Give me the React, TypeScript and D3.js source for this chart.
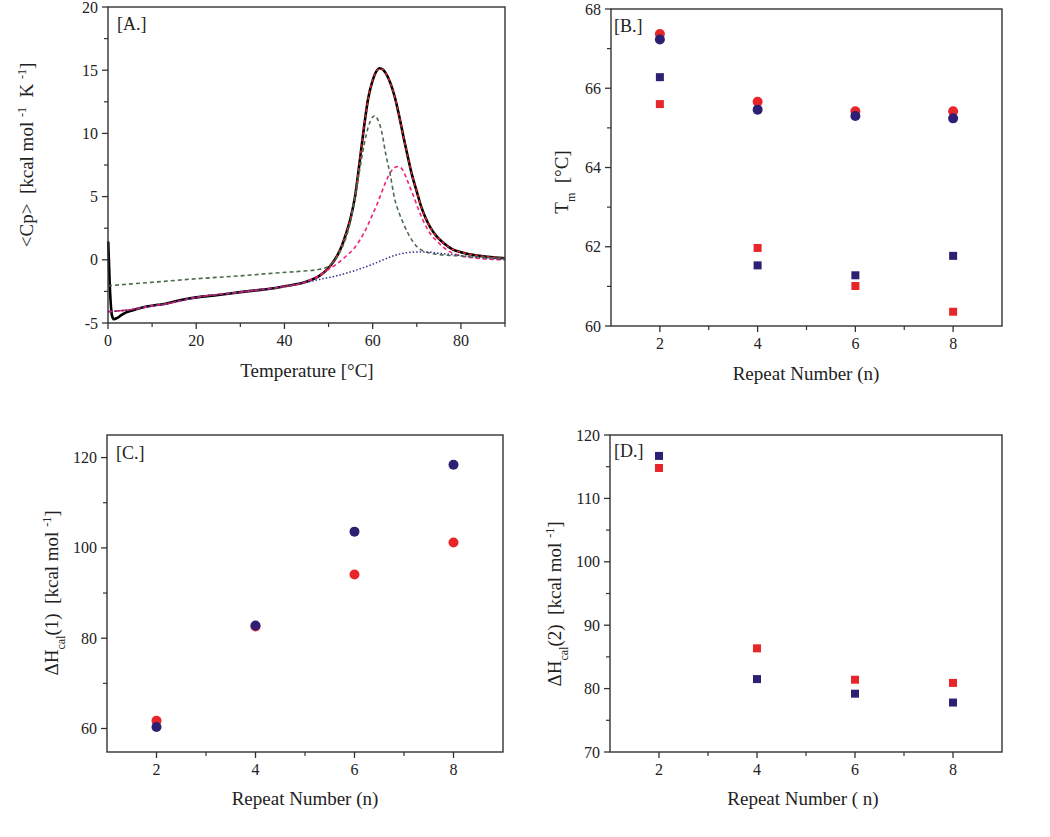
import React from 'react';
import * as d3 from 'd3';

const FONT = '"Liberation Serif", "Times New Roman", Times, serif';
const AXIS = '#333333';
const RED = '#e8262a';
const NAVY = '#2f1f73';

// ---------- Panel A: DSC thermogram (Temperature °C, <Cp> kcal/mol/K) ----------
const cpExperimental: [number, number][] = [
  [0.05, 1.45], [0.4, -2.0], [0.9, -4.4], [1.3, -4.7], [2, -4.62], [3, -4.38], [4, -4.18], [5, -4.06],
  [6, -3.95], [7, -3.85], [8, -3.76], [10, -3.63], [12, -3.53], [13, -3.48], [15, -3.3], [18, -3.08],
  [20, -2.97], [25, -2.78], [30, -2.56], [35, -2.36], [38, -2.23], [40, -2.1], [42, -1.98], [44, -1.83],
  [46, -1.6], [48, -1.25], [50, -0.65], [51, -0.2], [52, 0.35], [53, 1.1], [54, 2.1], [55, 3.3],
  [56, 5.0], [57, 7.6], [58, 10.4], [59, 12.8], [60, 14.2], [61, 15.0], [61.6, 15.15], [62.3, 15.05],
  [63, 14.75], [64, 14.0], [65, 12.9], [66, 11.4], [67, 9.7], [68, 8.1], [69, 6.6], [70, 5.4],
  [71, 4.2], [72, 3.3], [73, 2.6], [74.5, 1.85], [76, 1.35], [78, 0.85], [80, 0.6], [83, 0.38],
  [86, 0.24], [90, 0.12],
];
const cpFitTotal: [number, number][] = [
  [0, -4.1], [5, -3.95], [10, -3.65], [13, -3.5], [20, -2.97], [30, -2.56], [40, -2.1], [44, -1.85],
  [46, -1.6], [48, -1.25], [50, -0.65], [51, -0.2], [52, 0.35], [53, 1.1], [54, 2.1], [55, 3.3],
  [56, 5.0], [57, 7.6], [58, 10.4], [59, 12.8], [60, 14.2], [61, 15.0], [61.6, 15.15], [62.3, 15.05],
  [63, 14.75], [64, 14.0], [65, 12.9], [66, 11.4], [67, 9.7], [68, 8.1], [69, 6.6], [70, 5.4],
  [71, 4.2], [72, 3.3], [73, 2.6], [74.5, 1.85], [76, 1.35], [78, 0.85], [80, 0.6], [83, 0.38],
  [86, 0.24], [90, 0.12],
];
const cpPeak1: [number, number][] = [
  [0, -2.05], [10, -1.78], [20, -1.5], [30, -1.27], [39, -1.02], [44, -0.9], [48, -0.75], [50, -0.5],
  [51, -0.2], [52, 0.25], [53, 0.9], [54, 1.8], [55, 3.1], [56, 5.0], [57, 7.0], [58, 9.0],
  [59, 10.5], [60, 11.3], [60.5, 11.4], [61, 11.2], [62, 10.2], [63, 8.3], [64, 6.7], [65, 4.8],
  [66, 3.7], [67, 2.85], [68, 2.1], [69, 1.5], [70, 1.05], [71, 0.78], [73, 0.52], [75, 0.42],
  [80, 0.3], [85, 0.2], [90, 0.1],
];
const cpPeak2: [number, number][] = [
  [0, -4.1], [5, -3.95], [10, -3.65], [13, -3.5], [20, -2.97], [30, -2.56], [40, -2.1], [44, -1.85],
  [47, -1.4], [49, -1.0], [50, -0.75], [52, -0.3], [54, 0.3], [56, 1.0], [58, 2.1], [60, 3.6],
  [61, 4.4], [62, 5.3], [63, 6.2], [64, 6.9], [65, 7.3], [65.8, 7.38], [66.5, 7.25], [67.5, 6.6],
  [68.5, 5.7], [69.2, 5.1], [70.7, 3.7], [72, 2.7], [73, 2.1], [74.5, 1.5], [76, 1.0], [78, 0.55],
  [80, 0.3], [83, 0.15], [86, 0.05], [90, 0.0],
];
const cpBaseline: [number, number][] = [
  [0, -4.1], [5, -3.95], [10, -3.65], [13, -3.5], [20, -2.97], [30, -2.56], [40, -2.1], [44, -1.85],
  [48, -1.55], [52, -1.25], [56.4, -0.8], [60, -0.35], [62.4, 0.0], [65, 0.35], [67.7, 0.56], [70, 0.62],
  [72, 0.62], [75, 0.52], [79, 0.38], [85, 0.15], [90, 0.02],
];
const tempMajorTicks = [0, 20, 40, 60, 80];
const tempMinorTicks = [10, 30, 50, 70, 90];
const cpMajorTicks = [-5, 0, 5, 10, 15, 20];
const cpMinorTicks = [-2.5, 2.5, 7.5, 12.5, 17.5];

// ---------- Panels B-D: vs repeat number ----------
const repeatNumbers = [2, 4, 6, 8];
const repeatMajorTicks = [2, 4, 6, 8];
const repeatMinorTicks = [3, 5, 7];

const tmCircleRed = [67.37, 65.66, 65.42, 65.42];
const tmCircleNavy = [67.23, 65.46, 65.3, 65.24];
const tmSquareRed = [65.6, 61.97, 61.01, 60.36];
const tmSquareNavy = [66.28, 61.53, 61.28, 61.77];
const tmMajorTicks = [60, 62, 64, 66, 68];
const tmMinorTicks = [61, 63, 65, 67];

const dh1Red = [61.7, 82.6, 94.1, 101.2];
const dh1Navy = [60.35, 82.8, 103.6, 118.4];
const dh1MajorTicks = [60, 80, 100, 120];
const dh1MinorTicks = [70, 90, 110];

const dh2Red = [114.8, 86.35, 81.4, 80.9];
const dh2Navy = [116.7, 81.5, 79.2, 77.8];
const dh2MajorTicks = [70, 80, 90, 100, 110, 120];
const dh2MinorTicks = [75, 85, 95, 105, 115];

type Scale = d3.ScaleLinear<number, number>;

function Frame({ x, y, xMajor, xMinor, yMajor, yMinor }: {
  x: Scale; y: Scale; xMajor: number[]; xMinor: number[]; yMajor: number[]; yMinor: number[];
}) {
  const [x0, x1] = x.range();
  const [y0, y1] = y.range();
  return (
    <g fontFamily={FONT} fontSize={16} fill="#222">
      <rect x={x0} y={y1} width={x1 - x0} height={y0 - y1} fill="none" stroke={AXIS} strokeWidth={1.4} />
      {xMajor.map((v) => (
        <g key={'xM' + v}>
          <line x1={x(v)} x2={x(v)} y1={y0} y2={y0 + 6} stroke={AXIS} strokeWidth={1.3} />
          <text x={x(v)} y={y0 + 23} textAnchor="middle">{v}</text>
        </g>
      ))}
      {xMinor.map((v) => (
        <line key={'xm' + v} x1={x(v)} x2={x(v)} y1={y0} y2={y0 + 4} stroke={AXIS} strokeWidth={1.2} />
      ))}
      {yMajor.map((v) => (
        <g key={'yM' + v}>
          <line x1={x0 - 6} x2={x0} y1={y(v)} y2={y(v)} stroke={AXIS} strokeWidth={1.3} />
          <text x={x0 - 10} y={y(v)} dy="0.35em" textAnchor="end">{v}</text>
        </g>
      ))}
      {yMinor.map((v) => (
        <line key={'ym' + v} x1={x0 - 4} x2={x0} y1={y(v)} y2={y(v)} stroke={AXIS} strokeWidth={1.2} />
      ))}
    </g>
  );
}

function Circles({ x, y, values, color }: { x: Scale; y: Scale; values: number[]; color: string }) {
  return (
    <g>
      {values.map((v, i) => (
        <circle key={i} cx={x(repeatNumbers[i])} cy={y(v)} r={5} fill={color} />
      ))}
    </g>
  );
}

function Squares({ x, y, values, color }: { x: Scale; y: Scale; values: number[]; color: string }) {
  const s = 8;
  return (
    <g>
      {values.map((v, i) => (
        <rect key={i} x={x(repeatNumbers[i]) - s / 2} y={y(v) - s / 2} width={s} height={s} fill={color} />
      ))}
    </g>
  );
}

export default function App() {
  // Panel A scales
  const xA = d3.scaleLinear().domain([0, 90]).range([108, 505]);
  const yA = d3.scaleLinear().domain([-5, 20]).range([323, 7]);
  const lineA = d3.line<[number, number]>().x((d) => xA(d[0])).y((d) => yA(d[1])).curve(d3.curveMonotoneX);

  // Panel B
  const xB = d3.scaleLinear().domain([1, 9]).range([611, 1002]);
  const yB = d3.scaleLinear().domain([60, 68]).range([326, 9]);
  // Panel C
  const xC = d3.scaleLinear().domain([1, 9]).range([107, 503]);
  const yC = d3.scaleLinear().domain([54.8, 125]).range([752, 435]);
  // Panel D
  const xD = d3.scaleLinear().domain([1, 9]).range([610, 1002]);
  const yD = d3.scaleLinear().domain([70, 120]).range([752, 435]);

  const titleSize = 19;
  const sup = (t: string) => (
    <tspan baselineShift="super" fontSize={12}>{t}</tspan>
  );
  const sub = (t: string) => (
    <tspan baselineShift="sub" fontSize={12}>{t}</tspan>
  );

  return (
    <svg width={1050} height={837} style={{ position: 'absolute', left: 0, top: 0, background: '#fff' }}
      fontFamily={FONT}>
      <rect x={0} y={0} width={1050} height={837} fill="#fff" />

      {/* ---------- Panel A ---------- */}
      <g>
        <path d={lineA(cpExperimental) || ''} fill="none" stroke="#000" strokeWidth={2.6} />
        <path d={lineA(cpFitTotal) || ''} fill="none" stroke={RED} strokeWidth={1.5} strokeDasharray="3,3" />
        <path d={lineA(cpPeak2) || ''} fill="none" stroke="#f0207e" strokeWidth={1.6} strokeDasharray="4,3" />
        <path d={lineA(cpBaseline) || ''} fill="none" stroke="#3d2f8f" strokeWidth={1.5} strokeDasharray="1.5,2" />
        <path d={lineA(cpPeak1) || ''} fill="none" stroke="#4c6b4c" strokeWidth={1.6} strokeDasharray="4,3" />
        <Frame x={xA} y={yA} xMajor={tempMajorTicks} xMinor={tempMinorTicks} yMajor={cpMajorTicks} yMinor={cpMinorTicks} />
        <text x={117} y={30} fontSize={18} fill="#222">[A.]</text>
        <text x={307} y={377} fontSize={titleSize} textAnchor="middle" fill="#222">Temperature [°C]</text>
        <text transform="translate(33,155) rotate(-90)" fontSize={titleSize} textAnchor="middle" fill="#222"
          style={{ whiteSpace: 'pre' }}>
          {'<Cp>  [kcal mol '}{sup('-1')}{'  K '}{sup('-1')}{']'}
        </text>
      </g>

      {/* ---------- Panel B ---------- */}
      <g>
        <Circles x={xB} y={yB} values={tmCircleRed} color={RED} />
        <Circles x={xB} y={yB} values={tmCircleNavy} color={NAVY} />
        <Squares x={xB} y={yB} values={tmSquareRed} color={RED} />
        <Squares x={xB} y={yB} values={tmSquareNavy} color={NAVY} />
        <Frame x={xB} y={yB} xMajor={repeatMajorTicks} xMinor={repeatMinorTicks} yMajor={tmMajorTicks} yMinor={tmMinorTicks} />
        <text x={614} y={32} fontSize={18} fill="#222">[B.]</text>
        <text x={806} y={380} fontSize={titleSize} textAnchor="middle" fill="#222">Repeat Number (n)</text>
        <text transform="translate(568,182) rotate(-90)" fontSize={titleSize} textAnchor="middle" fill="#222"
          style={{ whiteSpace: 'pre' }}>
          {'T'}{sub('m')}{'  [°C]'}
        </text>
      </g>

      {/* ---------- Panel C ---------- */}
      <g>
        <Circles x={xC} y={yC} values={dh1Red} color={RED} />
        <Circles x={xC} y={yC} values={dh1Navy} color={NAVY} />
        <Frame x={xC} y={yC} xMajor={repeatMajorTicks} xMinor={repeatMinorTicks} yMajor={dh1MajorTicks} yMinor={dh1MinorTicks} />
        <text x={116} y={459} fontSize={18} fill="#222">[C.]</text>
        <text x={305} y={805} fontSize={titleSize} textAnchor="middle" fill="#222">Repeat Number (n)</text>
        <text transform="translate(58,593) rotate(-90)" fontSize={titleSize} textAnchor="middle" fill="#222"
          style={{ whiteSpace: 'pre' }}>
          {'ΔH'}{sub('cal')}{'(1)  [kcal mol '}{sup('-1')}{']'}
        </text>
      </g>

      {/* ---------- Panel D ---------- */}
      <g>
        <Squares x={xD} y={yD} values={dh2Red} color={RED} />
        <Squares x={xD} y={yD} values={dh2Navy} color={NAVY} />
        <Frame x={xD} y={yD} xMajor={repeatMajorTicks} xMinor={repeatMinorTicks} yMajor={dh2MajorTicks} yMinor={dh2MinorTicks} />
        <text x={614} y={457} fontSize={18} fill="#222">[D.]</text>
        <text x={803} y={805} fontSize={titleSize} textAnchor="middle" fill="#222">Repeat Number ( n)</text>
        <text transform="translate(561,604) rotate(-90)" fontSize={titleSize} textAnchor="middle" fill="#222"
          style={{ whiteSpace: 'pre' }}>
          {'ΔH'}{sub('cal')}{'(2)  [kcal mol '}{sup('-1')}{']'}
        </text>
      </g>
    </svg>
  );
}
